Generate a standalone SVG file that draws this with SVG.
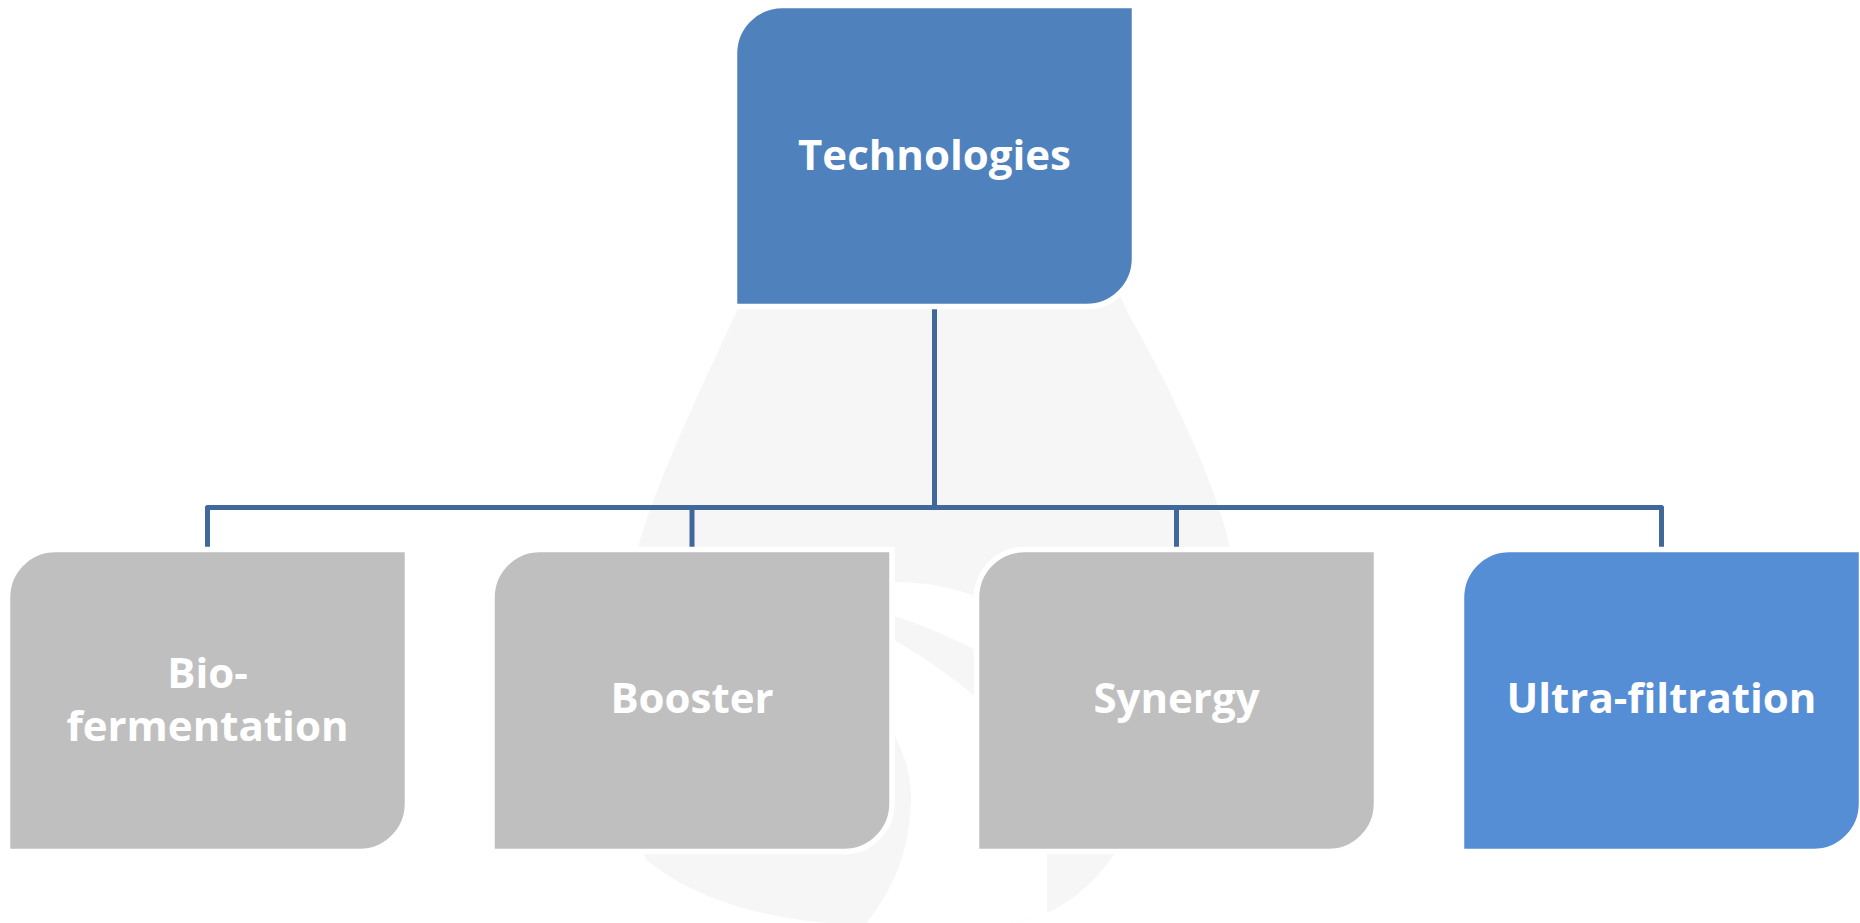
<svg xmlns="http://www.w3.org/2000/svg" width="1860" height="923" viewBox="0 0 1860 923">
  <style>
    .box { stroke: #ffffff; stroke-width: 5.5; }
    .gray { fill: #bfbfbf; }
    .lbl { font-family: "Open Sans", "Liberation Sans", sans-serif; font-weight: 700; font-size: 42px; fill: #ffffff; text-anchor: middle; }
    .conn { fill: none; stroke: #41689a; stroke-width: 5; stroke-linejoin: round; }
    .wm { fill: #f6f6f6; }
  </style>
  <defs>
    <path id="drop" d="M 934 30 C 860 120 775 215 737 310 C 715 360 660 470 638 547 C 610 650 600 790 647 860 C 700 905 790 925 865 924 C 930 935 1000 930 1047 913 C 1075 900 1095 880 1110 860 C 1200 740 1260 660 1230 547 C 1212 470 1160 370 1128 313 C 1092 230 1000 110 934 30 Z"/>
    <clipPath id="dropClip"><use href="#drop"/></clipPath>
  </defs>
  <rect width="1860" height="923" fill="#ffffff"/>
  <g id="watermark">
    <use href="#drop" class="wm"/>
    <g clip-path="url(#dropClip)">
      <circle cx="895" cy="820" r="238" fill="#ffffff"/>
      <path class="wm" d="M 870 609 Q 935 626 995 661 L 995 713 Q 935 660 870 627 Z"/>
      <path class="wm" d="M 880 712 C 900 740 912 770 911 800 C 910 845 897 885 865 925 L 600 925 L 600 712 Z"/>
      <path class="wm" d="M 1047 850 L 1047 930 L 1300 930 L 1300 850 Z"/>
    </g>
  </g>
  <g id="connectors">
    <path class="conn" d="M 934.5 307 V 507.5"/>
    <path class="conn" d="M 207.5 549 V 507.5 H 1661.5 V 549"/>
    <path class="conn" d="M 692 507.5 V 549"/>
    <path class="conn" d="M 1176.5 507.5 V 549"/>
  </g>
  <g id="technologies">
    <path class="box" fill="#4f81bd" d="M 782.5 5.5 H 1134.5 V 258.5 A 48 48 0 0 1 1086.5 306.5 H 734.5 V 53.5 A 48 48 0 0 1 782.5 5.5 Z"/>
    <text class="lbl" x="934.5" y="170">Technologies</text>
  </g>
  <g id="bio-fermentation">
    <path class="box gray" d="M 55.5 549.5 H 407.5 V 803.5 A 48 48 0 0 1 359.5 851.5 H 7.5 V 597.5 A 48 48 0 0 1 55.5 549.5 Z"/>
    <text class="lbl" x="207.5" y="688">Bio-</text>
    <text class="lbl" x="207.5" y="741">fermentation</text>
  </g>
  <g id="booster">
    <path class="box gray" d="M 540 549.5 H 892 V 803.5 A 48 48 0 0 1 844 851.5 H 492 V 597.5 A 48 48 0 0 1 540 549.5 Z"/>
    <text class="lbl" x="692" y="713">Booster</text>
  </g>
  <g id="synergy">
    <path class="box gray" d="M 1024.5 549.5 H 1376.5 V 803.5 A 48 48 0 0 1 1328.5 851.5 H 976.5 V 597.5 A 48 48 0 0 1 1024.5 549.5 Z"/>
    <text class="lbl" x="1176.5" y="713">Synergy</text>
  </g>
  <g id="ultra-filtration">
    <path class="box" fill="#558ed5" d="M 1509.5 549.5 H 1861.5 V 803.5 A 48 48 0 0 1 1813.5 851.5 H 1461.5 V 597.5 A 48 48 0 0 1 1509.5 549.5 Z"/>
    <text class="lbl" x="1661.5" y="713">Ultra-filtration</text>
  </g>
</svg>
